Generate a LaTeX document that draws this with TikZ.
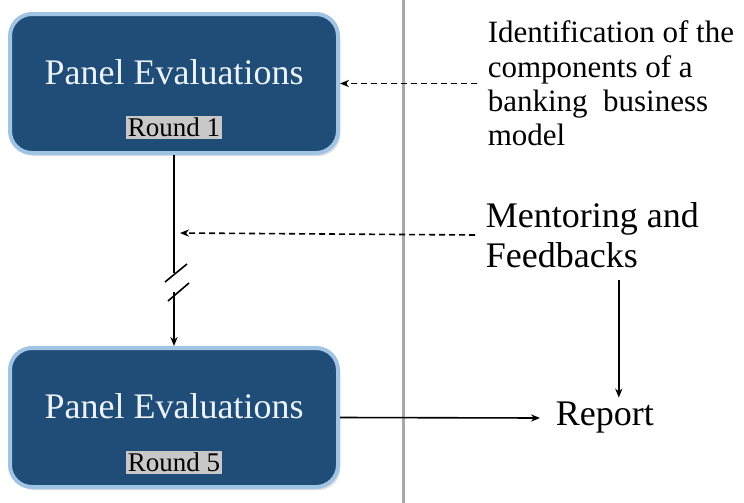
\documentclass[tikz,border=0pt]{standalone}
\usepackage{fontspec}
\setmainfont{Liberation Serif}
\usepackage{xcolor}
\usetikzlibrary{positioning,shadows,arrows.meta}

\definecolor{panelblue}{RGB}{31,77,120}
\definecolor{panelrim}{RGB}{160,196,228}
\definecolor{paneltext}{RGB}{236,243,250}
\definecolor{tagrey}{RGB}{200,200,200}
\definecolor{divgrey}{RGB}{168,168,168}

\begin{document}
\begin{tikzpicture}[x=0.5pt,y=-0.5pt,>={Stealth[length=4.5pt,width=3.6pt]},line width=0.8pt,
    panel/.style={rounded corners=11pt,fill=panelblue,draw=panelrim,line width=2pt,minimum width=164pt,minimum height=69.5pt,drop shadow={shadow xshift=1.2pt,shadow yshift=-1.5pt,opacity=0.25}},
    title/.style={text=paneltext,font=\fontsize{18}{20}\selectfont,inner sep=0pt},
    roundtag/.style={fill=tagrey,text=black,font=\fontsize{13.5}{15}\selectfont,inner sep=1pt},
    note/.style={anchor=west,align=left,inner xsep=5pt,inner ysep=2pt},
    hint/.style={->,dash pattern=on 3pt off 2pt}]

    \useasboundingbox (0,0) rectangle (744,503);

    % divider
    \draw[divgrey,line width=1.5pt] (403,0) -- (403,503);

    \node[panel] (panel1) at (174,83.5) {};
    \node[title] (title1) at ([yshift=5.75pt]panel1.center) {Panel Evaluations};
    \node[roundtag] (round1) at ([yshift=-21.75pt]panel1.center) {Round 1};

    \node[panel] (panel5) at (174,417.5) {};
    \node[title] (title5) at ([yshift=5.75pt]panel5.center) {Panel Evaluations};
    \node[roundtag] (round5) at ([yshift=-22.25pt]panel5.center) {Round 5};

    \node[note,font=\fontsize{15.5}{17.2}\selectfont] (ident) at (477,83.5) {Identification of the\\components of a\\banking\ \ business\\model};
    \node[note,font=\fontsize{18}{20}\selectfont] (mentor) at (475,235) {Mentoring and\\Feedbacks};
    \node[anchor=west,inner xsep=7.5pt,inner ysep=2pt,font=\fontsize{18}{20}\selectfont] (report) at (540,418) {Report};

    % broken line between the rounds
    \coordinate (cut1) at (174,273);
    \coordinate (cut2) at (174,292);
    \coordinate (tap) at (180,233);

    \draw[-] (panel1.south) -- (cut1);
    \draw[->] (cut2) -- (panel5.north);
    \draw[-] ([xshift=-4.5pt,yshift=-4.5pt]cut1) -- ([xshift=6.5pt,yshift=4.5pt]cut1);
    \draw[-] ([xshift=-3pt,yshift=-4.5pt]cut2) -- ([xshift=7.5pt,yshift=4.5pt]cut2);

    \draw[hint] (ident.west) -- (panel1.east);
    \draw[hint] (mentor.west) -- (tap);

    \path ([xshift=7pt]report.north) coordinate (rtop);
    \draw[->] ([yshift=-4pt]rtop |- mentor.south) -- (rtop);
    \draw[->] (panel5.east) -- (report.west);

\end{tikzpicture}
\end{document}
